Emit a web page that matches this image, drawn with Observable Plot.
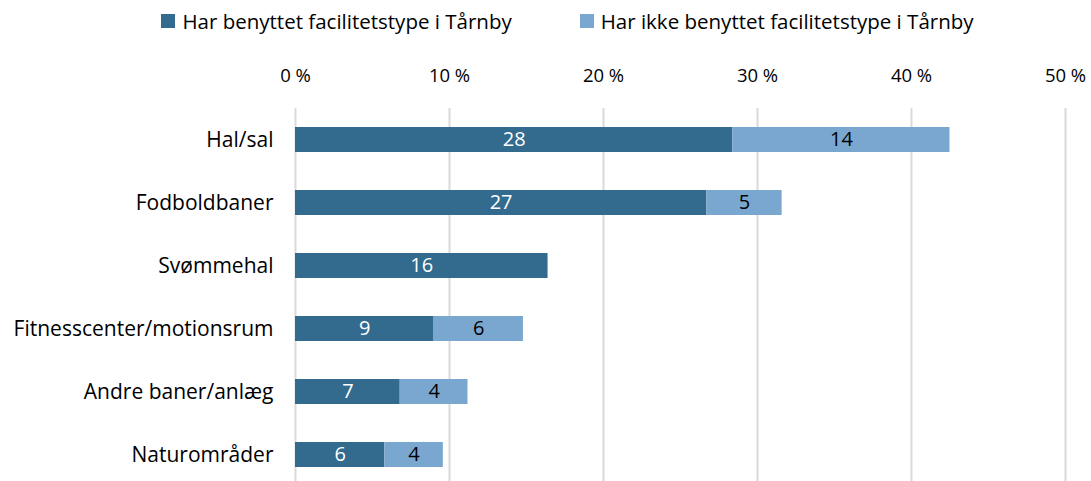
<!DOCTYPE html>
<html>
<head>
<meta charset="utf-8">
<script src="https://cdn.jsdelivr.net/npm/d3@7"></script>
<script src="https://cdn.jsdelivr.net/npm/@observablehq/plot@0.6"></script>
<style>
  html, body { margin: 0; padding: 0; background: #fff; overflow: hidden; }
  body { width: 1091px; height: 481px; position: relative; font-family: "Open Sans", sans-serif; }
  #legend { position: absolute; top: 7px; left: 0; width: 1091px; display: flex; justify-content: center; gap: 68px; font-size: 20.5px; color: #000; padding-left: 44px; box-sizing: border-box; }
  #legend .item { display: flex; align-items: center; gap: 7px; }
  #legend .sw { width: 14px; height: 14px; display: inline-block; }
  #chart { position: absolute; top: 0; left: 0; }
</style>
</head>
<body>
<div id="legend"></div>
<div id="chart"></div>
<script>
const categories = ["Hal/sal", "Fodboldbaner", "Svømmehal", "Fitnesscenter/motionsrum", "Andre baner/anlæg", "Naturområder"];
const seriesNames = ["Har benyttet facilitetstype i Tårnby", "Har ikke benyttet facilitetstype i Tårnby"];
const used =    [28.4, 26.7, 16.4, 9.0, 6.8, 5.8];
const notUsed = [14.1, 4.9, 0, 5.8, 4.4, 3.8];
const xTicks = [0, 10, 20, 30, 40, 50];
const colors = ["#336B8F", "#7AA7D0"];
const labelColors = ["#ffffff", "#000000"];

const rows = [];
categories.forEach((c, i) => {
  rows.push({cat: c, series: seriesNames[0], value: used[i]});
  if (notUsed[i] > 0) rows.push({cat: c, series: seriesNames[1], value: notUsed[i]});
});

const legend = document.getElementById("legend");
seriesNames.forEach((s, i) => {
  const it = document.createElement("div");
  it.className = "item";
  it.innerHTML = `<span class="sw" style="background:${colors[i]}"></span><span>${s}</span>`;
  legend.appendChild(it);
});

const plot = Plot.plot({
  width: 1091,
  height: 486,
  marginTop: 108,
  marginBottom: 0,
  marginLeft: 295,
  marginRight: 26,
  style: {fontFamily: "'Open Sans', sans-serif", fontSize: "18px", color: "#000", background: "transparent"},
  x: {domain: [0, 50], axis: null},
  y: {domain: categories, paddingInner: 0.6, paddingOuter: 0.3, axis: null},
  color: {domain: seriesNames, range: colors},
  marks: [
    Plot.ruleX(xTicks, {stroke: "#d9d9d9", strokeWidth: 2}),
    Plot.barX(rows, Plot.stackX({y: "cat", x: "value", fill: "series", order: seriesNames})),
    Plot.text(rows, Plot.stackX({y: "cat", x: "value", order: seriesNames,
      text: d => Math.round(d.value).toString(),
      fill: d => labelColors[seriesNames.indexOf(d.series)], fontSize: 20})),
    Plot.axisX(xTicks, {anchor: "top", tickSize: 0, tickPadding: 0, dy: -27, tickFormat: d => d + " %", fontSize: 18.5, label: null}),
    Plot.axisY({anchor: "left", tickSize: 0, tickPadding: 22, fontSize: 21, label: null})
  ]
});
document.getElementById("chart").appendChild(plot);
</script>
</body>
</html>
